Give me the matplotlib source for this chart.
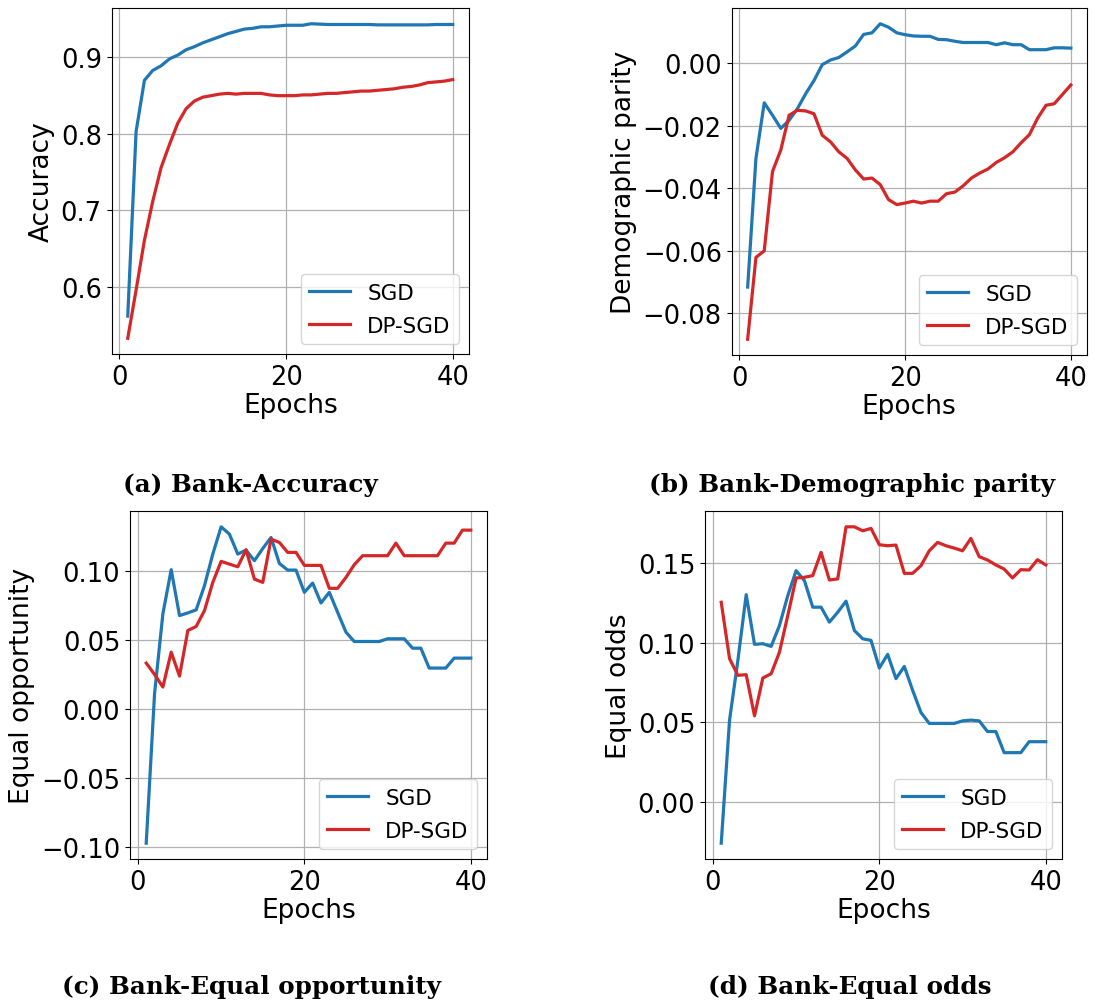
import matplotlib
matplotlib.use("Agg")
import matplotlib.pyplot as plt

# ---- data (40 epochs) ----
epochs = list(range(1, 41))

acc_sgd = [0.562, 0.803, 0.870, 0.883, 0.889, 0.898, 0.903, 0.910, 0.914, 0.919,
           0.923, 0.927, 0.931, 0.934, 0.937, 0.938, 0.940, 0.940, 0.941, 0.942,
           0.942, 0.942, 0.944, 0.9435, 0.943, 0.943, 0.943, 0.943, 0.943, 0.943,
           0.9425, 0.9425, 0.9425, 0.9425, 0.9425, 0.9425, 0.9425, 0.943, 0.943, 0.943]
acc_dp = [0.533, 0.596, 0.661, 0.712, 0.756, 0.786, 0.814, 0.833, 0.843, 0.848,
          0.850, 0.852, 0.853, 0.852, 0.853, 0.853, 0.853, 0.851, 0.850, 0.850,
          0.850, 0.851, 0.851, 0.852, 0.853, 0.853, 0.854, 0.855, 0.856, 0.856,
          0.857, 0.858, 0.859, 0.861, 0.862, 0.864, 0.867, 0.868, 0.869, 0.871]

dp_sgd = [-0.0716, -0.0304, -0.0126, -0.0166, -0.0208, -0.0182, -0.0145, -0.0097, -0.0055, -0.0004,
          0.0011, 0.0019, 0.0037, 0.0056, 0.0093, 0.0098, 0.0127, 0.0116, 0.0098, 0.0092,
          0.0088, 0.0087, 0.0087, 0.0077, 0.0076, 0.0071, 0.0067, 0.0067, 0.0067, 0.0067,
          0.0060, 0.0066, 0.0060, 0.0060, 0.0044, 0.0044, 0.0044, 0.0050, 0.0050, 0.0049]
dp_dp = [-0.0883, -0.0621, -0.0600, -0.0346, -0.0277, -0.0166, -0.0150, -0.0152, -0.0161, -0.0230,
         -0.0251, -0.0283, -0.0304, -0.0341, -0.0370, -0.0367, -0.0388, -0.0436, -0.0452, -0.0447,
         -0.0441, -0.0447, -0.0441, -0.0441, -0.0417, -0.0412, -0.0392, -0.0367, -0.0351, -0.0338,
         -0.0317, -0.0302, -0.0283, -0.0254, -0.0228, -0.0175, -0.0134, -0.0129, -0.0099, -0.0069]

eop_sgd = [-0.0969, 0.0113, 0.0690, 0.1010, 0.0678, 0.0697, 0.0719, 0.0894, 0.1123, 0.1320,
           0.1267, 0.1123, 0.1151, 0.1075, 0.1163, 0.1243, 0.1055, 0.1007, 0.1007, 0.0846,
           0.0913, 0.0769, 0.0846, 0.0702, 0.0558, 0.0490, 0.0490, 0.0490, 0.0490, 0.0510,
           0.0510, 0.0510, 0.0442, 0.0442, 0.0298, 0.0298, 0.0298, 0.0370, 0.0370, 0.0370]
eop_dp = [0.0334, 0.0252, 0.0161, 0.0413, 0.0240, 0.0570, 0.0599, 0.0714, 0.0918, 0.1070,
          0.1050, 0.1031, 0.1154, 0.0942, 0.0918, 0.1231, 0.1207, 0.1135, 0.1135, 0.1041,
          0.1041, 0.1041, 0.0875, 0.0875, 0.0954, 0.1046, 0.1111, 0.1111, 0.1111, 0.1111,
          0.1202, 0.1111, 0.1111, 0.1111, 0.1111, 0.1111, 0.1202, 0.1202, 0.1296, 0.1296]

eod_sgd = [-0.0262, 0.0513, 0.0889, 0.1303, 0.0990, 0.0994, 0.0977, 0.1109, 0.1297, 0.1454,
           0.1391, 0.1224, 0.1224, 0.1130, 0.1192, 0.1262, 0.1077, 0.1025, 0.1015, 0.0841,
           0.0927, 0.0774, 0.0851, 0.0701, 0.0561, 0.0492, 0.0492, 0.0492, 0.0492, 0.0508,
           0.0513, 0.0508, 0.0441, 0.0441, 0.0308, 0.0308, 0.0308, 0.0377, 0.0377, 0.0377]
eod_dp = [0.1255, 0.0900, 0.0795, 0.0799, 0.0540, 0.0778, 0.0805, 0.0941, 0.1172, 0.1408,
          0.1412, 0.1423, 0.1569, 0.1395, 0.1402, 0.1730, 0.1730, 0.1705, 0.1720, 0.1617,
          0.1611, 0.1615, 0.1437, 0.1437, 0.1485, 0.1579, 0.1632, 0.1611, 0.1596, 0.1579,
          0.1657, 0.1542, 0.1521, 0.1490, 0.1464, 0.1408, 0.1460, 0.1458, 0.1523, 0.1490]

ylabels = ["Accuracy", "Demographic parity", "Equal opportunity", "Equal odds"]
captions = ["(a) Bank-Accuracy", "(b) Bank-Demographic parity",
            "(c) Bank-Equal opportunity", "(d) Bank-Equal odds"]

W, H = 1095, 1003
fig = plt.figure(figsize=(W / 100, H / 100), dpi=100)

# axes boxes in pixels: left, top, right, bottom
boxes = [(111.5, 9, 469, 355), (731.5, 9, 1087, 356),
         (130, 512, 487, 860), (705, 512, 1062, 860)]
cap_pos = [(250, 485), (852, 485), (252, 987), (850, 987)]
series = [(acc_sgd, acc_dp), (dp_sgd, dp_dp), (eop_sgd, eop_dp), (eod_sgd, eod_dp)]

for i, (l, t, r, b) in enumerate(boxes):
    ax = fig.add_axes([l / W, 1 - b / H, (r - l) / W, (b - t) / H])
    s, d = series[i]
    ax.plot(epochs, s, color="#1f77b4", lw=2.3, label="SGD")
    ax.plot(epochs, d, color="#d62728", lw=2.3, label="DP-SGD")
    ax.grid(True, color="#b0b0b0", lw=0.9)
    ax.set_xticks([0, 20, 40])
    ax.tick_params(labelsize=18.5)
    ax.set_xlabel("Epochs", fontsize=19, labelpad=2)
    ax.set_ylabel(ylabels[i], fontsize=19, labelpad=4)
    ax.legend(loc="lower right", fontsize=15.5, handlelength=1.9,
              labelspacing=0.6, borderaxespad=0.45)
    cx, cy = cap_pos[i]
    fig.text(cx / W, 1 - cy / H, captions[i], ha="center", va="center",
             fontsize=17.7, family="DejaVu Serif", fontweight="bold")

fig.savefig("out.png", dpi=100)
